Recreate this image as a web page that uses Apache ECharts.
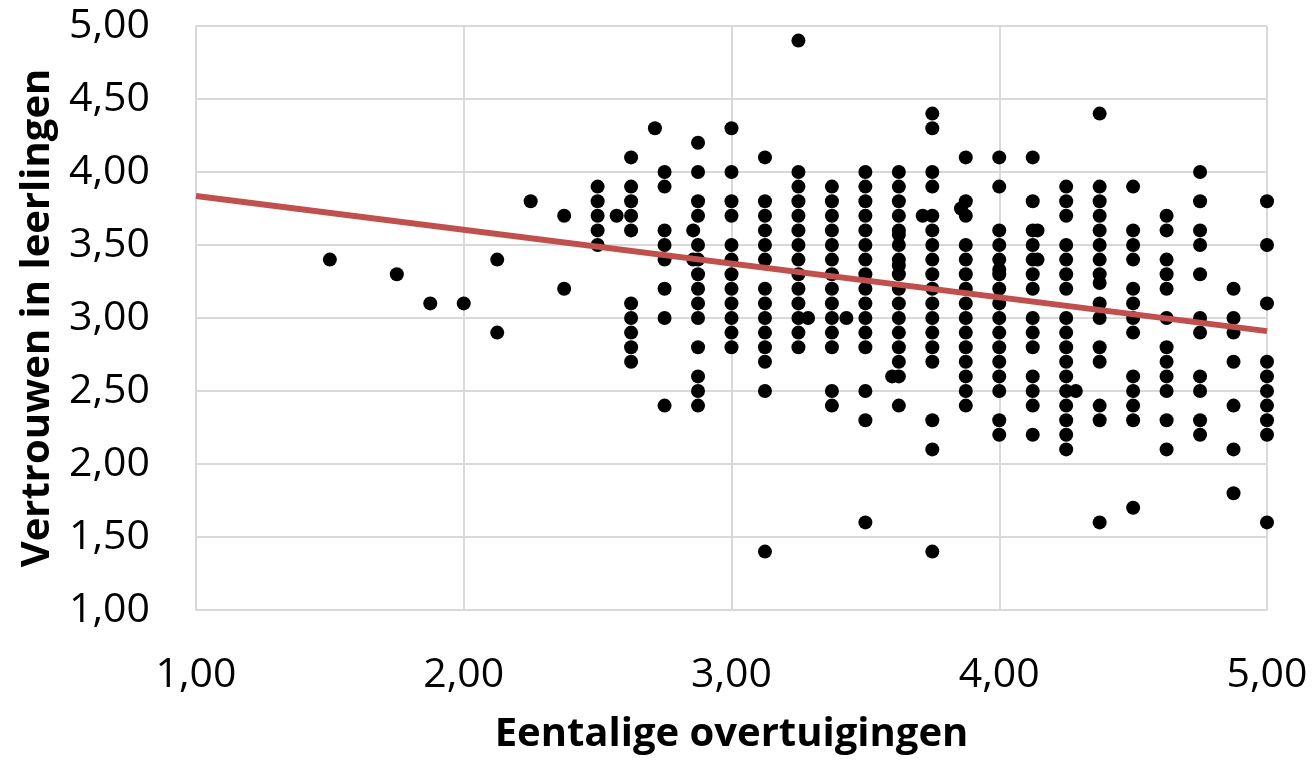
<!DOCTYPE html>
<html>
<head>
<meta charset="utf-8">
<script src="https://cdn.jsdelivr.net/npm/echarts@6/dist/echarts.min.js"></script>
<style>
html,body{margin:0;padding:0;background:#fff;}
#chart{width:1313px;height:763px;}
</style>
</head>
<body>
<div id="chart"></div>
<script>
// Column x positions of the scatter points and the y values in each column
const colX = [1.5, 1.75, 1.875, 2.0, 2.125, 2.25, 2.375, 2.5, 2.571, 2.625, 2.714, 2.75, 2.857, 2.875,
  3.0, 3.125, 3.25, 3.286, 3.375, 3.429, 3.5, 3.6, 3.625, 3.714, 3.75, 3.857, 3.875,
  4.0, 4.125, 4.143, 4.25, 4.286, 4.375, 4.5, 4.625, 4.75, 4.875, 5.0];
const colY = [
  [3.4],
  [3.3],
  [3.1],
  [3.1],
  [3.4, 2.9],
  [3.8],
  [3.7, 3.2],
  [3.9, 3.8, 3.7, 3.6, 3.5],
  [3.7],
  [4.1, 3.9, 3.8, 3.7, 3.6, 3.1, 3.0, 2.9, 2.8, 2.7],
  [4.3],
  [4.0, 3.9, 3.6, 3.5, 3.4, 3.2, 3.0, 2.4],
  [3.6, 3.4],
  [4.2, 4.0, 3.8, 3.7, 3.5, 3.4, 3.3, 3.2, 3.1, 3.0, 2.8, 2.6, 2.5, 2.4],
  [4.3, 4.0, 3.8, 3.7, 3.5, 3.4, 3.3, 3.2, 3.1, 3.0, 2.9, 2.8],
  [4.1, 3.8, 3.7, 3.6, 3.5, 3.4, 3.2, 3.1, 3.0, 2.9, 2.8, 2.7, 2.5, 1.4],
  [4.9, 4.0, 3.9, 3.8, 3.7, 3.6, 3.5, 3.4, 3.3, 3.2, 3.1, 3.0, 2.9, 2.8],
  [3.0],
  [3.9, 3.8, 3.7, 3.6, 3.5, 3.4, 3.3, 3.2, 3.1, 3.0, 2.9, 2.8, 2.5, 2.4],
  [3.0],
  [4.0, 3.9, 3.8, 3.7, 3.6, 3.5, 3.4, 3.3, 3.2, 3.1, 3.0, 2.9, 2.8, 2.5, 2.3, 1.6],
  [2.6],
  [4.0, 3.9, 3.8, 3.7, 3.6, 3.57, 3.5, 3.4, 3.36, 3.3, 3.2, 3.1, 3.0, 2.9, 2.8, 2.7, 2.6, 2.4],
  [3.7],
  [4.4, 4.3, 4.0, 3.9, 3.7, 3.6, 3.5, 3.4, 3.3, 3.2, 3.1, 3.0, 2.9, 2.8, 2.7, 2.3, 2.1, 1.4],
  [3.75],
  [4.1, 3.8, 3.7, 3.5, 3.4, 3.3, 3.2, 3.1, 3.0, 2.9, 2.8, 2.7, 2.6, 2.5, 2.4],
  [4.1, 3.9, 3.6, 3.5, 3.4, 3.33, 3.3, 3.2, 3.1, 3.0, 2.9, 2.8, 2.7, 2.6, 2.5, 2.3, 2.2],
  [4.1, 3.8, 3.6, 3.5, 3.4, 3.3, 3.2, 3.0, 2.9, 2.8, 2.6, 2.5, 2.4, 2.2],
  [3.6, 3.4],
  [3.9, 3.8, 3.7, 3.5, 3.4, 3.3, 3.2, 3.0, 2.9, 2.8, 2.7, 2.6, 2.5, 2.4, 2.3, 2.2, 2.1],
  [2.5],
  [4.4, 3.9, 3.8, 3.7, 3.6, 3.5, 3.4, 3.3, 3.24, 3.1, 3.0, 2.8, 2.7, 2.4, 2.3, 1.6],
  [3.9, 3.6, 3.5, 3.4, 3.2, 3.1, 3.0, 2.9, 2.6, 2.5, 2.4, 2.3, 1.7],
  [3.7, 3.6, 3.4, 3.3, 3.2, 3.0, 2.8, 2.7, 2.6, 2.5, 2.3, 2.1],
  [4.0, 3.8, 3.6, 3.5, 3.3, 3.0, 2.9, 2.6, 2.5, 2.3, 2.2],
  [3.2, 3.0, 2.9, 2.7, 2.4, 2.1, 1.8],
  [3.8, 3.5, 3.1, 2.7, 2.6, 2.5, 2.4, 2.3, 2.2, 1.6]
];
// Trend line end points
const trendX = [1.0, 5.0];
const trendY = [3.835, 2.91];

const xTitle = 'Eentalige overtuigingen';
const yTitle = 'Vertrouwen in leerlingen';

const points = [];
colX.forEach((x, i) => colY[i].forEach(y => points.push([x, y])));
const trend = trendX.map((x, i) => [x, trendY[i]]);

const FONT = 'Open Sans';
const fmt = v => v.toFixed(2).replace('.', ',');
const gridColor = '#D9D9D9';

const chart = echarts.init(document.getElementById('chart'), null, {renderer: 'canvas'});
chart.setOption({
  animation: false,
  backgroundColor: '#ffffff',
  grid: {left: 196, right: 46, top: 26, bottom: 153, containLabel: false},
  xAxis: {
    type: 'value', min: 1, max: 5, interval: 1,
    name: xTitle, nameLocation: 'middle', nameGap: 105,
    nameTextStyle: {fontFamily: FONT, fontWeight: 'bold', fontSize: 40, color: '#000'},
    axisLine: {show: true, lineStyle: {color: gridColor, width: 2}},
    axisTick: {show: false},
    axisLabel: {formatter: fmt, fontFamily: FONT, fontSize: 41, color: '#000', margin: 45},
    splitLine: {show: true, lineStyle: {color: gridColor, width: 2}}
  },
  yAxis: {
    type: 'value', min: 1, max: 5, interval: 0.5,
    name: yTitle, nameLocation: 'middle', nameGap: 138, nameRotate: 90,
    nameTextStyle: {fontFamily: FONT, fontWeight: 'bold', fontSize: 40, color: '#000'},
    axisLine: {show: true, lineStyle: {color: gridColor, width: 2}},
    axisTick: {show: false},
    axisLabel: {formatter: fmt, fontFamily: FONT, fontSize: 41, color: '#000', margin: 46},
    splitLine: {show: true, lineStyle: {color: gridColor, width: 2}}
  },
  series: [
    {
      type: 'scatter', data: points, symbol: 'circle', symbolSize: 14,
      itemStyle: {color: '#000000', opacity: 1}, z: 2
    },
    {
      type: 'line', data: trend, showSymbol: false, symbol: 'none',
      lineStyle: {color: '#C0504D', width: 6}, z: 3
    }
  ]
});
</script>
</body>
</html>
